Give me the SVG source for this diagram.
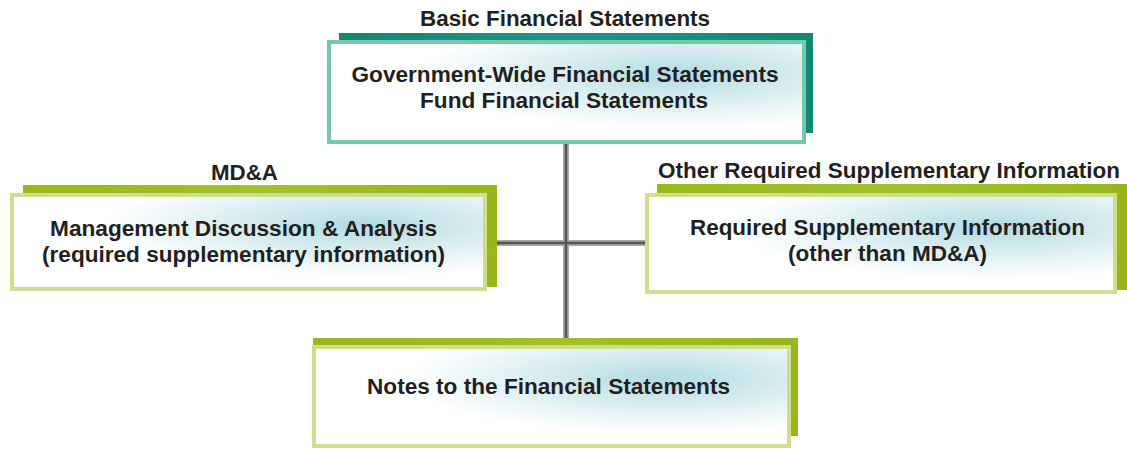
<svg xmlns="http://www.w3.org/2000/svg" width="1127" height="449" viewBox="0 0 1127 449">
<defs>
<radialGradient id="fill" cx="0.74" cy="0.32" r="0.55" fx="0.74" fy="0.32">
<stop offset="0" stop-color="#b2dae2"/>
<stop offset="0.45" stop-color="#d6ecef"/>
<stop offset="1" stop-color="#ffffff"/>
</radialGradient>
<linearGradient id="teal" x1="0" y1="0" x2="1" y2="0">
<stop offset="0" stop-color="#138876"/>
<stop offset="0.5" stop-color="#1b948a"/>
<stop offset="1" stop-color="#0f8a74"/>
</linearGradient>
<linearGradient id="green" x1="0" y1="0" x2="1" y2="0">
<stop offset="0" stop-color="#98b81c"/>
<stop offset="0.5" stop-color="#a2c02a"/>
<stop offset="1" stop-color="#96b61a"/>
</linearGradient>
</defs>
<style>
.t{font-family:"Liberation Sans",Arial,sans-serif;font-weight:bold;font-size:21.5px;fill:#231f20;text-anchor:middle}
.box{fill:url(#fill);stroke-width:4}
.tb{stroke:#74c8ae}
.gb{stroke:#cddf8e}
.c1{stroke:#a8a8a8;stroke-width:6;fill:none}
.c2{stroke:#555;stroke-width:2.5;fill:none}
</style>
<rect width="1127" height="449" fill="#ffffff"/>

<g id="connectors">
<line class="c1" x1="566" y1="143" x2="566" y2="340"/>
<line class="c1" x1="497" y1="243" x2="645" y2="243"/>
<line class="c2" x1="566" y1="143" x2="566" y2="340"/>
<line class="c2" x1="497" y1="243" x2="645" y2="243"/>
</g>

<g id="basic">
<text class="t" x="565" y="26" textLength="290" lengthAdjust="spacingAndGlyphs">Basic Financial Statements</text>
<rect x="339" y="33" width="474" height="100" fill="url(#teal)"/>
<rect class="box tb" x="329" y="42" width="475" height="100"/>
<text class="t" x="565" y="82" textLength="427" lengthAdjust="spacingAndGlyphs">Government-Wide Financial Statements</text>
<text class="t" x="564" y="107.5" textLength="288" lengthAdjust="spacingAndGlyphs">Fund Financial Statements</text>
</g>

<g id="mda">
<text class="t" x="244.5" y="180" textLength="67" lengthAdjust="spacingAndGlyphs">MD&amp;A</text>
<rect x="23" y="185" width="474" height="102" fill="url(#green)"/>
<rect class="box gb" x="12" y="195" width="473" height="94"/>
<text class="t" x="243.5" y="235.5" textLength="387" lengthAdjust="spacingAndGlyphs">Management Discussion &amp; Analysis</text>
<text class="t" x="243.5" y="262" textLength="403" lengthAdjust="spacingAndGlyphs">(required supplementary information)</text>
</g>

<g id="rsi">
<text class="t" x="889" y="178" textLength="462" lengthAdjust="spacingAndGlyphs">Other Required Supplementary Information</text>
<rect x="657" y="184" width="470" height="106" fill="url(#green)"/>
<rect class="box gb" x="647" y="195" width="468" height="97"/>
<text class="t" x="887.5" y="234.5" textLength="395" lengthAdjust="spacingAndGlyphs">Required Supplementary Information</text>
<text class="t" x="887.5" y="261" textLength="199" lengthAdjust="spacingAndGlyphs">(other than MD&amp;A)</text>
</g>

<g id="notes">
<rect x="313" y="338" width="485" height="98" fill="url(#green)"/>
<rect class="box gb" x="314" y="347" width="475" height="99"/>
<text class="t" x="548.5" y="394" textLength="363" lengthAdjust="spacingAndGlyphs">Notes to the Financial Statements</text>
</g>
</svg>
